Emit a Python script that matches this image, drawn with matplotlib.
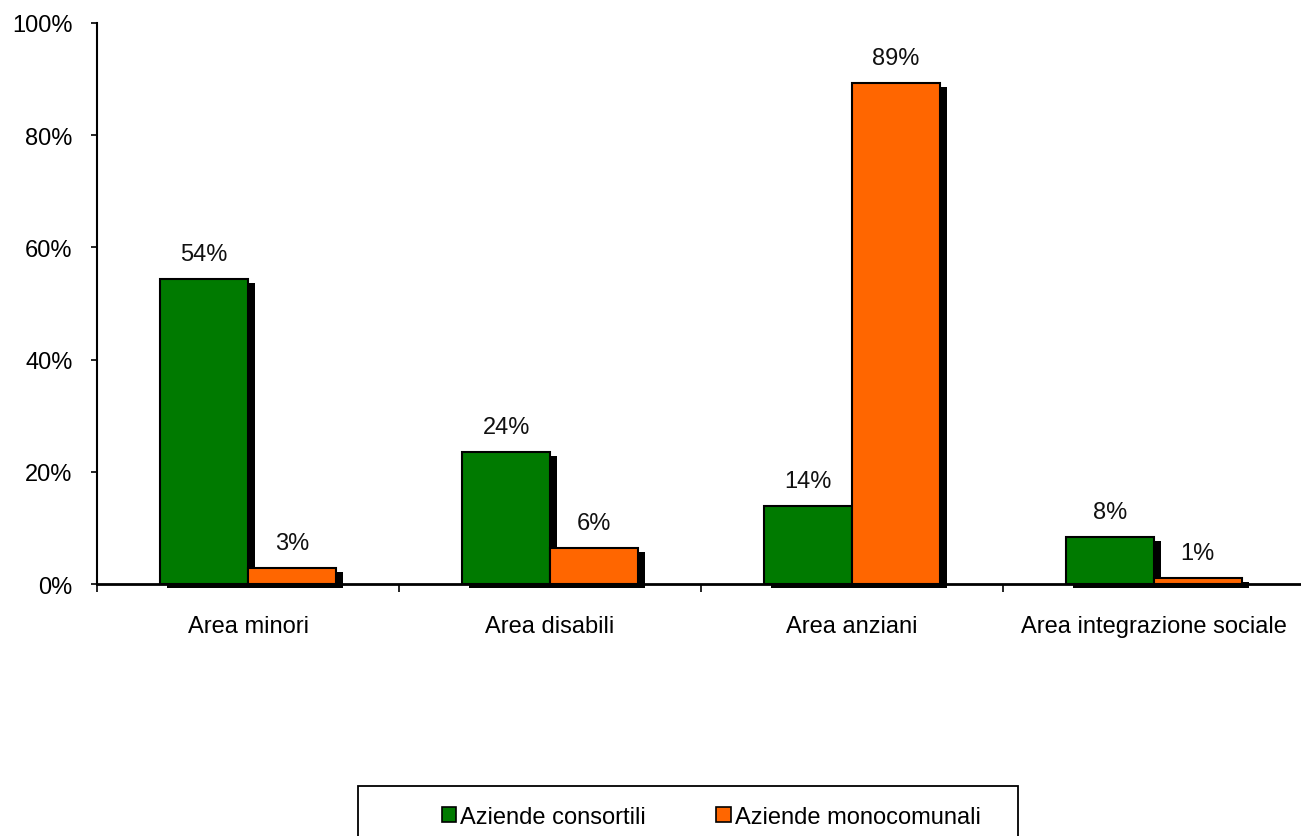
import matplotlib
matplotlib.use("Agg")
import matplotlib.pyplot as plt
import matplotlib.patheffects as pe
from matplotlib.patches import Patch, Rectangle
import numpy as np

plt.rcParams['font.family'] = ['Liberation Sans', 'DejaVu Sans']

categories = ["Area minori", "Area disabili", "Area anziani", "Area integrazione sociale"]
consortili = [0.544, 0.235, 0.139, 0.084]
monocomunali = [0.028, 0.064, 0.893, 0.011]
series_names = ["Aziende consortili", "Aziende monocomunali"]
colors = ["#007A00", "#FF6600"]

FS = 17

fig = plt.figure(figsize=(13.01, 8.37), dpi=100)
ax = fig.add_axes([97/1301, 1 - 585/837, (1305-97)/1301, (585-24)/837])

x = np.arange(len(categories))
w = 0.29
shadow = [pe.SimplePatchShadow(offset=(5, -3), shadow_rgbFace='black', alpha=1.0), pe.Normal()]
for vals, off, col in [(consortili, -w/2, colors[0]), (monocomunali, w/2, colors[1])]:
    bars = ax.bar(x + off, vals, w, color=col, edgecolor='black', linewidth=1.5, zorder=3)
    for b, v in zip(bars, vals):
        b.set_path_effects(shadow)
        b.set_clip_on(False)
        ax.text(b.get_x() + b.get_width()/2, v + 0.025, f"{round(v*100):d}%",
                ha='center', va='bottom', fontsize=FS, color='#111111')

ax.set_xlim(-0.5, len(categories) - 0.5)
ax.set_ylim(0, 1.0)
yt = np.arange(0, 1.01, 0.2)
ax.set_yticks(yt)
ax.set_yticklabels([f"{int(round(t*100))}%" for t in yt], fontsize=FS)
ax.set_xticks(np.arange(-0.5, len(categories), 1.0))
ax.set_xticklabels([])
ax.set_xticks(x, minor=True)
ax.set_xticklabels(categories, minor=True, fontsize=FS)
ax.tick_params(axis='x', which='minor', length=0, pad=22)
ax.tick_params(axis='x', which='major', length=6, width=1.2, direction='out')
ax.tick_params(axis='y', length=4.5, width=1.2, direction='out', pad=13)
for s in ['top', 'right']:
    ax.spines[s].set_visible(False)
ax.spines['left'].set_linewidth(1.5)
ax.spines['bottom'].set_linewidth(2)
ax.spines['bottom'].set_zorder(4)

# legend frame (extends past bottom edge like the reference)
fig.patches.append(Rectangle((358/1301, -0.05), (1018-358)/1301, (837-787)/837 + 0.05,
                             transform=fig.transFigure, facecolor='white',
                             edgecolor='black', linewidth=1.3))
handles = [Patch(facecolor=c, edgecolor='black', linewidth=1.2) for c in colors]
leg = fig.legend(handles, series_names, loc='center', bbox_to_anchor=(711/1301, 1 - 818/837),
                 ncol=2, fontsize=FS, frameon=False,
                 handlelength=0.62, handleheight=0.6, handletextpad=0.15,
                 columnspacing=3.0, borderpad=0)

fig.savefig("out.png", dpi=100)
